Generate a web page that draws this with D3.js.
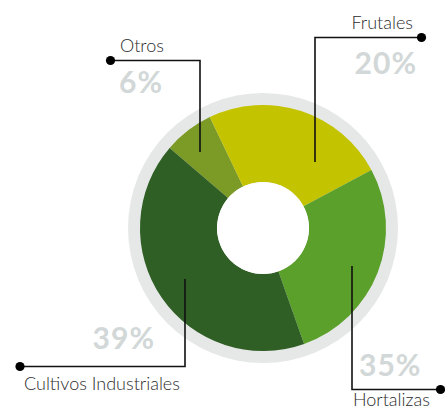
<!DOCTYPE html>
<html>
<head>
<meta charset="utf-8">
<script src="https://cdn.jsdelivr.net/npm/d3@7"></script>
<style>
  html, body { margin: 0; padding: 0; background: #fff; }
  svg { display: block; }
</style>
</head>
<body>
<div id="chart"></div>
<script>
// categories in drawing order (clockwise, starting at the upper left)
var categories = ["Otros", "Frutales", "Hortalizas", "Cultivos Industriales"];
// slice sizes as drawn in the picture (the printed labels are rounded differently)
var shares = [6.6, 24.3, 27.4, 41.7];
var pctLabels = ["6%", "20%", "35%", "39%"];
var colors = ["#7c9a26", "#c4c300", "#5aa02b", "#2f5f25"];

var W = 445, H = 410;
var cx = 263, cy = 228;
var rOuter = 123, rInner = 46, rRing = 135;

var svg = d3.select("#chart")
  .append("svg")
  .attr("width", W)
  .attr("height", H);

var g = svg.append("g")
  .attr("transform", "translate(" + cx + "," + cy + ")");

// grey ring behind the donut
g.append("circle")
  .attr("r", rRing)
  .attr("fill", "#e6e8e8");

var startA = -49.4 * Math.PI / 180;
var pie = d3.pie()
  .sort(null)
  .startAngle(startA)
  .endAngle(startA + 2 * Math.PI)
  .value(function(d) { return d; });

var arc = d3.arc()
  .innerRadius(rInner)
  .outerRadius(rOuter);

g.selectAll("path.slice")
  .data(pie(shares))
  .enter()
  .append("path")
    .attr("class", "slice")
    .attr("d", arc)
    .attr("fill", function(d, i) { return colors[i]; });

// white hole
g.append("circle")
  .attr("r", rInner)
  .attr("fill", "#fff");

// callouts: inner end of the leader (relative to centre), the elbow / dot, text placement
var callouts = [
  { inner: [-63, -76], dot: [110.5, 60.5], name: [120, 52], pct: [119, 92.5], anchor: "start" },
  { inner: [52, -66], dot: [421.5, 37.5], name: [413, 29], pct: [417, 74], anchor: "end" },
  { inner: [89, 38], dot: [440.5, 389.5], name: [353, 406], pct: [359, 376], anchor: "start" },
  { inner: [-78, 51], dot: [20, 366.5], name: [24, 390], pct: [155, 349], anchor: "end" }
];

var lab = svg.append("g");
callouts.forEach(function(c, i) {
  var ix = cx + c.inner[0], iy = cy + c.inner[1];
  lab.append("path")
    .attr("d", "M" + ix + "," + iy + "V" + c.dot[1] + "H" + c.dot[0])
    .attr("fill", "none")
    .attr("stroke", "#111")
    .attr("stroke-width", 1.6);
  lab.append("circle")
    .attr("cx", c.dot[0])
    .attr("cy", c.dot[1])
    .attr("r", 4.6)
    .attr("fill", "#000");
  lab.append("text")
    .attr("x", c.name[0])
    .attr("y", c.name[1])
    .attr("text-anchor", i == 3 ? "start" : c.anchor)
    .style("font-family", "Lato, 'Open Sans', sans-serif")
    .style("font-weight", 300)
    .style("font-size", "18px")
    .style("fill", "#2b2b2b")
    .text(categories[i]);
  lab.append("text")
    .attr("x", c.pct[0])
    .attr("y", c.pct[1])
    .attr("text-anchor", c.anchor)
    .style("font-family", "Lato, 'Open Sans', sans-serif")
    .style("font-weight", 700)
    .style("font-size", "30px")
    .style("letter-spacing", "1px")
    .style("fill", "#d2d7d7")
    .text(pctLabels[i]);
});
</script>
</body>
</html>
